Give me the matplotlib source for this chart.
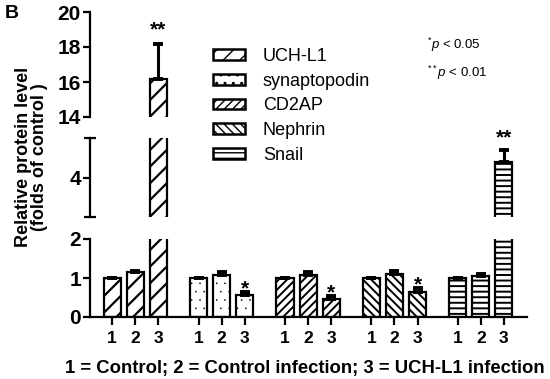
import matplotlib
matplotlib.use("Agg")
import matplotlib.pyplot as plt
import numpy as np
from matplotlib.patches import Patch

plt.rcParams['font.family'] = ['Liberation Sans', 'DejaVu Sans']
plt.rcParams['mathtext.fontset'] = 'custom'
plt.rcParams['mathtext.rm'] = 'Liberation Sans'
plt.rcParams['mathtext.it'] = 'Liberation Sans:italic'
plt.rcParams['hatch.color'] = 'black'

proteins = ["UCH-L1", "synaptopodin", "CD2AP", "Nephrin", "Snail"]
hatches = ["//", "..", "////", "\\\\\\\\", "---"]
hatch_lw = [1.6, 0.0, 1.4, 1.4, 1.4]
values = {
    "UCH-L1":       [1.0, 1.15, 16.2],
    "synaptopodin": [1.0, 1.08, 0.56],
    "CD2AP":        [1.0, 1.08, 0.46],
    "Nephrin":      [1.0, 1.10, 0.65],
    "Snail":        [1.0, 1.05, 4.40],
}
errors = {
    "UCH-L1":       [0.0, 0.04, 2.0],
    "synaptopodin": [0.0, 0.08, 0.09],
    "CD2AP":        [0.0, 0.07, 0.08],
    "Nephrin":      [0.0, 0.09, 0.10],
    "Snail":        [0.0, 0.06, 0.30],
}
signif = {
    "UCH-L1": "**", "synaptopodin": "*", "CD2AP": "*", "Nephrin": "*", "Snail": "**",
}
conditions = ["1", "2", "3"]

W, H = 550, 379
fig = plt.figure(figsize=(5.5, 3.79), dpi=100)

def fx(px):
    return px / W

def fy(top, bottom):
    return (H - bottom) / H, (bottom - top) / H

left = fx(90)
width = fx(527) - left
b0, h0 = fy(239, 317)
b1, h1 = fy(138, 217)
b2, h2 = fy(12, 117)
ax_bot = fig.add_axes([left, b0, width, h0])
ax_mid = fig.add_axes([left, b1, width, h1])
ax_top = fig.add_axes([left, b2, width, h2])

gap = 3.75
bw = 0.74
for ax in (ax_bot, ax_mid, ax_top):
    for g, p in enumerate(proteins):
        xs = g * gap + np.arange(3)
        with plt.rc_context({'hatch.linewidth': hatch_lw[g]}):
            bars = ax.bar(xs, values[p], width=bw, facecolor='white', edgecolor='black',
                          linewidth=1.6, hatch=hatches[g], zorder=2)
            for b in bars:
                if hasattr(b, 'set_hatch_linewidth'):
                    b.set_hatch_linewidth(hatch_lw[g])
        ax.errorbar(xs, values[p], yerr=[np.zeros(3), errors[p]], fmt='none',
                    ecolor='black', elinewidth=2.2, capsize=3.5, capthick=2.8, zorder=3)
    ax.set_xlim(-0.96, 4 * gap + 2 + 1.0)
    for s in ('top', 'right'):
        ax.spines[s].set_visible(False)
    ax.spines['left'].set_linewidth(1.6)
    ax.tick_params(axis='y', direction='out', length=5, width=1.6, labelsize=15, pad=1.5)

ax_bot.set_ylim(0, 2)
ax_bot.set_yticks([0, 1, 2])
ax_mid.set_ylim(3, 5)
ax_mid.set_yticks([4])
ax_top.set_ylim(14, 20)
ax_top.set_yticks([14, 16, 18, 20])

for ax in (ax_mid, ax_top):
    ax.spines['bottom'].set_visible(False)
    ax.set_xticks([])

# bracket caps on middle axis
ax_mid.set_yticks([3, 5], minor=True)
ax_mid.tick_params(axis='y', which='minor', direction='inout', length=8, width=1.6)

for ax in (ax_bot, ax_mid, ax_top):
    for lbl in ax.get_yticklabels():
        lbl.set_fontweight('bold')

xt = []
xl = []
for g in range(len(proteins)):
    for j in range(3):
        xt.append(g * gap + j)
        xl.append(conditions[j])
ax_bot.spines['bottom'].set_linewidth(1.6)
ax_bot.set_xticks(xt)
ax_bot.set_xticklabels(xl, fontweight='bold', fontsize=12.5)
ax_bot.tick_params(axis='x', direction='out', length=6, width=1.6, pad=4)

# significance stars
star_y = {"UCH-L1": (ax_top, 19.0), "synaptopodin": (ax_bot, 0.72),
          "CD2AP": (ax_bot, 0.62), "Nephrin": (ax_bot, 0.82), "Snail": (ax_mid, 5.0)}
for g, p in enumerate(proteins):
    ax, yy = star_y[p]
    ax.text(g * gap + 2, yy, signif[p], ha='center', va='center', fontsize=15,
            fontweight='bold', clip_on=False)

# legend
handles = []
for g in range(len(proteins)):
    with plt.rc_context({'hatch.linewidth': hatch_lw[g]}):
        ph = Patch(facecolor='white', edgecolor='black', linewidth=1.8, hatch=hatches[g])
        if hasattr(ph, 'set_hatch_linewidth'):
            ph.set_hatch_linewidth(hatch_lw[g])
    handles.append(ph)
fig.legend(handles, proteins, loc='upper left', bbox_to_anchor=(fx(206), 1 - 41 / H),
           frameon=False, fontsize=13, handlelength=1.75, handleheight=0.55,
           labelspacing=0.42, handletextpad=1.0, borderaxespad=0)

fig.text(fx(427), 1 - 45 / H, r"$^{*}\mathit{p}$ < 0.05", fontsize=9.5, va='center', ha='left')
fig.text(fx(427), 1 - 73 / H, r"$^{**}\mathit{p}$ < 0.01", fontsize=9.5, va='center', ha='left')

fig.text(fx(24), 1 - 157 / H, "Relative protein level", rotation=90, ha='center',
         va='center', fontsize=13, fontweight='bold')
fig.text(fx(40), 1 - 157 / H, "(folds of control )", rotation=90, ha='center',
         va='center', fontsize=13, fontweight='bold')

fig.text(fx(305), 1 - 368 / H, "1 = Control; 2 = Control infection; 3 = UCH-L1 infection",
         ha='center', va='center', fontsize=13.3, fontweight='bold')
fig.text(fx(12), 1 - 13 / H, "B", ha='center', va='center', fontsize=14, fontweight='bold')

fig.savefig("out.png", dpi=100)
